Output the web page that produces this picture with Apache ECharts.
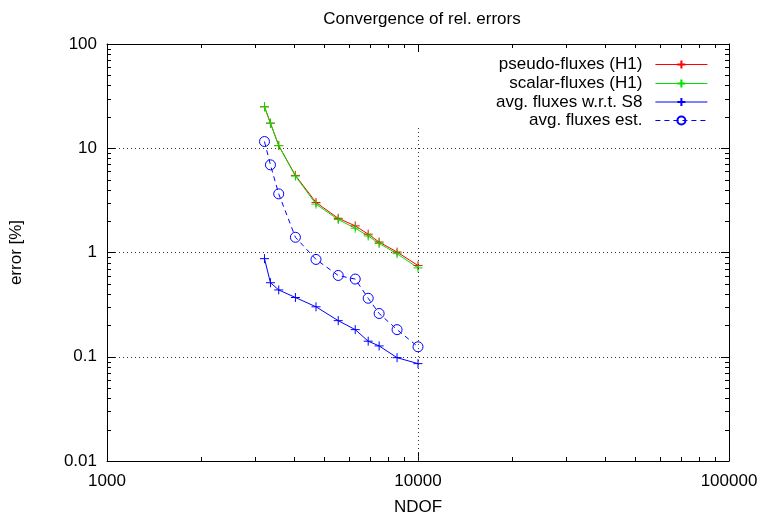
<!DOCTYPE html>
<html>
<head>
<meta charset="utf-8">
<script src="https://cdn.jsdelivr.net/npm/echarts@6/dist/echarts.min.js"></script>
<style>
html,body{margin:0;padding:0;background:#fff;}
#chart{width:766px;height:521px;}
</style>
</head>
<body>
<div id="chart"></div>
<script>
// ---- data ----
const ndof = [3209, 3354, 3566, 4035, 4699, 5540, 6283, 6916, 7499, 8564, 10000];
const pseudoFluxesH1 = [25.0, 17.4, 10.6, 5.49, 3.02, 2.13, 1.80, 1.50, 1.26, 1.01, 0.749];
const scalarFluxesH1 = [25.0, 17.4, 10.6, 5.41, 2.91, 2.07, 1.71, 1.44, 1.22, 0.974, 0.712];
const avgFluxesS8 = [0.873, 0.513, 0.4375, 0.370, 0.3015, 0.222, 0.182, 0.141, 0.127, 0.098, 0.0859];
const avgFluxesEst = [11.6, 6.93, 3.65, 1.40, 0.858, 0.602, 0.556, 0.364, 0.260, 0.182, 0.1246];
const seriesNames = ['pseudo-fluxes (H1)', 'scalar-fluxes (H1)', 'avg. fluxes w.r.t. S8', 'avg. fluxes est.'];
const xTickLabels = [1000, 10000, 100000];
const yTickLabels = [0.01, 0.1, 1, 10, 100];
// minor tick positions (log axes)
const xMinor = [];
[1000, 10000].forEach(d => { for (let k = 2; k <= 9; k++) xMinor.push(d * k); });
const yMinor = [];
[0.01, 0.1, 1, 10].forEach(d => { for (let k = 2; k <= 9; k++) yMinor.push(+(d * k).toPrecision(3)); });

const FONT = 'Liberation Sans';
const FS = 17;
const PLUS = 'path://M0,5L10,5M5,0L5,10';
const RING = 'path://M10,5A5,5,0,1,1,0,5A5,5,0,1,1,10,5Z';

function zip(xs, ys) { return xs.map((x, i) => [x, ys[i]]); }

const chart = echarts.init(document.getElementById('chart'), null, { renderer: 'canvas' });

const tickRenderer = function (params, api) {
  const v = api.value(0);
  const isX = api.value(1) === 0;
  const children = [];
  const len = 4;
  const style = { stroke: '#000', lineWidth: 1 };
  if (isX) {
    const pb = api.coord([v, 0.01]);
    const pt = api.coord([v, 100]);
    const x = Math.round(pb[0]) + 0.5;
    children.push({ type: 'line', shape: { x1: x, y1: pb[1], x2: x, y2: pb[1] - len }, style });
    children.push({ type: 'line', shape: { x1: x, y1: pt[1], x2: x, y2: pt[1] + len }, style });
  } else {
    const pl = api.coord([1000, v]);
    const pr = api.coord([100000, v]);
    const y = Math.round(pl[1]) + 0.5;
    children.push({ type: 'line', shape: { x1: pl[0], y1: y, x2: pl[0] + len, y2: y }, style });
    children.push({ type: 'line', shape: { x1: pr[0], y1: y, x2: pr[0] - len, y2: y }, style });
  }
  return { type: 'group', children };
};

const minorData = xMinor.map(v => [v, 0]).concat(yMinor.map(v => [v, 1]));

function legendAt(name, top) {
  return {
    data: [name],
    right: 58,
    top: top,
    orient: 'vertical',
    align: 'right',
    itemWidth: 52,
    itemHeight: 10,
    padding: 0,
    selectedMode: false,
    lineStyle: { width: 1.2 },
    textStyle: { fontFamily: FONT, fontSize: FS, color: '#000', padding: [0, 8, 0, 0] }
  };
}

const axisCommon = {
  type: 'log',
  logBase: 10,
  axisLine: { show: true, onZero: false, lineStyle: { color: '#000', width: 1 } },
  axisTick: { show: true, inside: true, length: 8, lineStyle: { color: '#000' } },
  minorTick: { show: false },
  splitLine: { show: false }
};

chart.setOption({
  animation: false,
  backgroundColor: '#fff',
  title: {
    text: 'Convergence of rel. errors',
    left: 417,
    textAlign: 'center',
    top: 6,
    textStyle: { fontFamily: FONT, fontSize: FS, fontWeight: 'normal', color: '#000' }
  },
  grid: { left: 105, right: 37, top: 44, bottom: 56, containLabel: false },
  legend: [
    legendAt(seriesNames[0], 56),
    legendAt(seriesNames[1], 75),
    legendAt(seriesNames[2], 93.5),
    legendAt(seriesNames[3], 112)
  ],
  xAxis: [
    Object.assign({}, axisCommon, {
      position: 'bottom', min: 1000, max: 100000,
      name: 'NDOF', nameLocation: 'middle', nameGap: 38,
      nameTextStyle: { fontFamily: FONT, fontSize: FS, color: '#000' },
      axisLabel: { fontFamily: FONT, fontSize: FS, color: '#000', margin: 12,
        formatter: v => (xTickLabels.includes(Math.round(v)) ? String(Math.round(v)) : '') }
    }),
    Object.assign({}, axisCommon, {
      position: 'top', min: 1000, max: 100000, axisLabel: { show: false }
    })
  ],
  yAxis: [
    Object.assign({}, axisCommon, {
      position: 'left', min: 0.01, max: 100,
      name: 'error [%]', nameLocation: 'middle', nameGap: 82, nameRotate: 90,
      nameTextStyle: { fontFamily: FONT, fontSize: FS, color: '#000' },
      axisLabel: { fontFamily: FONT, fontSize: FS, color: '#000', margin: 10,
        formatter: v => { const m = yTickLabels.find(t => Math.abs(t - v) / t < 1e-6); return m === undefined ? '' : String(m); } },
      splitLine: { show: true, lineStyle: { color: '#333', type: [1, 3], width: 1 } }
    }),
    Object.assign({}, axisCommon, {
      position: 'right', min: 0.01, max: 100, axisLabel: { show: false }
    })
  ],
  series: [
    {
      type: 'custom', name: 'minorTicks', silent: true, z: 5,
      renderItem: tickRenderer, data: minorData, clip: false
    },
    {
      type: 'line', name: 'grid10000', silent: true, symbol: 'none', data: [],
      markLine: {
        silent: true, symbol: 'none', label: { show: false },
        lineStyle: { color: '#333', type: [1, 3], width: 1 },
        data: [[{ coord: [10000, 0.01] }, { coord: [10000, 16] }]]
      }
    },
    {
      type: 'line', name: seriesNames[0], data: zip(ndof, pseudoFluxesH1),
      symbol: PLUS, symbolSize: 9,
      lineStyle: { color: '#ff0000', width: 1 },
      itemStyle: { color: '#ff0000', borderColor: '#ff0000', borderWidth: 1 }
    },
    {
      type: 'line', name: seriesNames[1], data: zip(ndof, scalarFluxesH1),
      symbol: PLUS, symbolSize: 9,
      lineStyle: { color: '#00e000', width: 1 },
      itemStyle: { color: '#00e000', borderColor: '#00e000', borderWidth: 1 }
    },
    {
      type: 'line', name: seriesNames[2], data: zip(ndof, avgFluxesS8),
      symbol: PLUS, symbolSize: 9,
      lineStyle: { color: '#0000ff', width: 1 },
      itemStyle: { color: '#0000ff', borderColor: '#0000ff', borderWidth: 1 }
    },
    {
      type: 'line', name: seriesNames[3], data: zip(ndof, avgFluxesEst),
      symbol: RING, symbolSize: 10,
      lineStyle: { color: '#0000ff', width: 1, type: [5, 4] },
      itemStyle: { color: 'rgba(0,0,0,0)', borderColor: '#0000ff', borderWidth: 1 }
    }
  ]
});
</script>
</body>
</html>
